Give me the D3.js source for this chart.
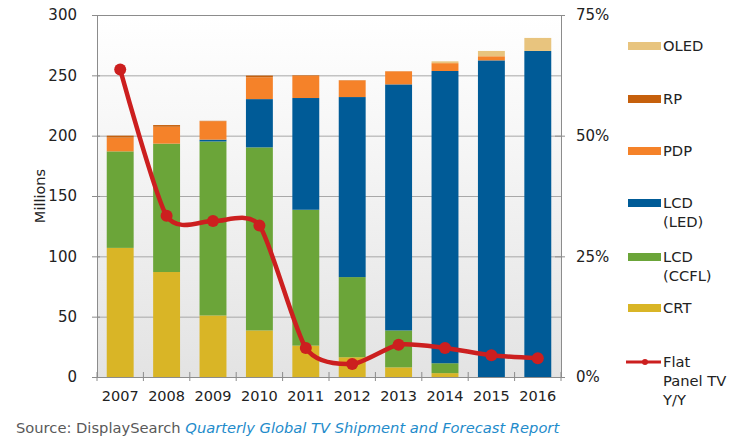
<!DOCTYPE html>
<html lang="en">
<head>
<meta charset="UTF-8">
<title>Global TV Shipments</title>
<script src="https://cdn.jsdelivr.net/npm/d3@7/dist/d3.min.js"></script>
<style>
  body { margin: 0; background: #fff; }
  text { font-family: "DejaVu Sans", Verdana, sans-serif; }
</style>
</head>
<body>
<svg id="chart" width="750" height="442"></svg>
<script>
// values (millions of units, and Y/Y %)
var years = ["2007", "2008", "2009", "2010", "2011", "2012", "2013", "2014", "2015", "2016"];
var crt  = [107, 87, 51, 38.6, 26, 16.4, 8, 3.2, 0, 0];
var ccfl = [80, 106.4, 144.2, 151.7, 112.6, 66.4, 30.6, 8.2, 0, 0];
var led  = [0, 0, 1.5, 40, 92.6, 149.2, 203.9, 242.2, 262.4, 270.2];
var pdp  = [11.4, 14, 15.3, 18.1, 18.5, 13.8, 10.8, 6.5, 3.4, 0];
var rp   = [1.6, 1.4, 0.3, 1.4, 0.4, 0.2, 0.1, 0, 0, 0];
var oled = [0, 0, 0, 0, 0, 0, 0, 1.5, 4.4, 10.8];
var flatYoY = [63.7, 33.4, 32.3, 31.4, 6.0, 2.7, 6.7, 6.0, 4.5, 3.9];

var leftTicks = [0, 50, 100, 150, 200, 250, 300];
var rightTicks = [0, 25, 50, 75];

var keys = ["CRT", "CCFL", "LED", "PDP", "RP", "OLED"];
var colors = {CRT: "#d9b526", CCFL: "#6ba539", LED: "#005b97", PDP: "#f58229", RP: "#c6600c", OLED: "#e8c47e"};
var legendItems = [
  {key: "OLED", lines: ["OLED"]},
  {key: "RP", lines: ["RP"]},
  {key: "PDP", lines: ["PDP"]},
  {key: "LED", lines: ["LCD", "(LED)"]},
  {key: "CCFL", lines: ["LCD", "(CCFL)"]},
  {key: "CRT", lines: ["CRT"]},
  {key: "YOY", lines: ["Flat", "Panel TV", "Y/Y"]}
];
var legendY = [46, 99, 151, 203, 257, 308, 362];

var svg = d3.select("#chart");
var pLeft = 97, pRight = 561, pTop = 15, pBottom = 377;

var data = years.map(function(yr, i) {
  return {year: yr, CRT: crt[i], CCFL: ccfl[i], LED: led[i], PDP: pdp[i], RP: rp[i], OLED: oled[i], yoy: flatYoY[i]};
});
var series = d3.stack().keys(keys)(data);

var x = d3.scaleBand().domain(years).range([pLeft, pRight]).paddingInner(0.42).paddingOuter(0.21);
var xBand = d3.scaleBand().domain(years).range([pLeft, pRight]);
var y = d3.scaleLinear().domain([0, 300]).range([pBottom, pTop]);
var y2 = d3.scaleLinear().domain([0, 75]).range([pBottom, pTop]);

// plot background
var defs = svg.append("defs");
var grad = defs.append("linearGradient").attr("id", "bg").attr("x1", 0).attr("y1", 0).attr("x2", 0).attr("y2", 1);
grad.append("stop").attr("offset", "0%").attr("stop-color", "#ffffff");
grad.append("stop").attr("offset", "35%").attr("stop-color", "#f6f6f6");
grad.append("stop").attr("offset", "100%").attr("stop-color", "#e3e3e3");
svg.append("rect").attr("x", pLeft).attr("y", pTop).attr("width", pRight - pLeft).attr("height", pBottom - pTop)
  .attr("fill", "url(#bg)");

// gridlines
svg.append("g").selectAll("line").data(leftTicks).enter().append("line")
  .attr("x1", pLeft).attr("x2", pRight)
  .attr("y1", function(d) { return y(d) + 0.5; }).attr("y2", function(d) { return y(d) + 0.5; })
  .attr("stroke", "#a8a8a8").attr("stroke-width", 1);

// bars
svg.append("g").selectAll("g").data(series).enter().append("g")
  .attr("fill", function(d) { return colors[d.key]; })
  .selectAll("rect").data(function(d) { return d; }).enter().append("rect")
  .attr("x", function(d) { return x(d.data.year); })
  .attr("width", x.bandwidth())
  .attr("y", function(d) { return y(d[1]); })
  .attr("height", function(d) { return Math.max(0, y(d[0]) - y(d[1])); });

// axes
var leftAxis = svg.append("g").attr("transform", "translate(" + pLeft + ",0)")
  .call(d3.axisLeft(y).tickValues(leftTicks).tickSizeInner(5).tickSizeOuter(0).tickPadding(15));
var rightAxis = svg.append("g").attr("transform", "translate(" + pRight + ",0)")
  .call(d3.axisRight(y2).tickValues(rightTicks).tickFormat(function(d) { return d + "%"; })
    .tickSizeInner(4).tickSizeOuter(0).tickPadding(11));
var bottomAxis = svg.append("g").attr("transform", "translate(0," + pBottom + ")")
  .call(d3.axisBottom(xBand).tickSize(0).tickPadding(14));

[leftAxis, rightAxis, bottomAxis].forEach(function(a) {
  a.selectAll(".domain").attr("stroke", "#8c8c8c");
  a.selectAll(".tick line").attr("stroke", "#8c8c8c");
  a.selectAll("text").attr("font-size", "15px").attr("fill", "#222")
    .style("font-family", "'DejaVu Sans', Verdana, sans-serif");
});
bottomAxis.selectAll("text").attr("font-size", "14.5px");
// ticks crossing the axis lines
leftAxis.selectAll(".tick line").attr("x1", 3);
rightAxis.selectAll(".tick line").attr("x1", -6);

// x tick marks at band edges
var edges = years.map(function(d) { return xBand(d); }).concat([pRight]);
svg.append("g").selectAll("line").data(edges).enter().append("line")
  .attr("x1", function(d) { return d; }).attr("x2", function(d) { return d; })
  .attr("y1", pBottom - 5).attr("y2", pBottom + 4)
  .attr("stroke", "#8c8c8c");

// top border
svg.append("line").attr("x1", pLeft).attr("x2", pRight).attr("y1", pTop + 0.5).attr("y2", pTop + 0.5)
  .attr("stroke", "#8c8c8c");

// y title
svg.append("text").attr("transform", "translate(45," + ((pTop + pBottom) / 2) + ") rotate(-90)")
  .attr("text-anchor", "middle").attr("font-size", "14.5px").attr("fill", "#222").text("Millions");

// Y/Y line
var line = d3.line()
  .x(function(d) { return xBand(d.year) + xBand.bandwidth() / 2; })
  .y(function(d) { return y2(d.yoy); })
  .curve(d3.curveCardinal.tension(0.3));
svg.append("path").datum(data).attr("d", line)
  .attr("fill", "none").attr("stroke", "#cc1f1f").attr("stroke-width", 4.5).attr("stroke-linejoin", "round");
svg.append("g").selectAll("circle").data(data).enter().append("circle")
  .attr("cx", function(d) { return xBand(d.year) + xBand.bandwidth() / 2; })
  .attr("cy", function(d) { return y2(d.yoy); })
  .attr("r", 6).attr("fill", "#cc1f1f");

// legend
var lg = svg.append("g");
legendItems.forEach(function(item, i) {
  var ly = legendY[i];
  if (item.key === "YOY") {
    lg.append("line").attr("x1", 626).attr("x2", 661).attr("y1", ly).attr("y2", ly)
      .attr("stroke", "#cc1f1f").attr("stroke-width", 3);
    lg.append("circle").attr("cx", 645).attr("cy", ly).attr("r", 3).attr("fill", "#cc1f1f");
  } else {
    lg.append("rect").attr("x", 628).attr("y", ly - 4).attr("width", 33).attr("height", 8)
      .attr("fill", colors[item.key]);
  }
  var t = lg.append("text").attr("x", 663).attr("y", ly + 5).attr("font-size", "14.7px").attr("fill", "#222");
  item.lines.forEach(function(s, j) {
    t.append("tspan").attr("x", 663).attr("dy", j === 0 ? 0 : 19).text(s);
  });
});

// source
var src = svg.append("text").attr("x", 16).attr("y", 433).attr("font-size", "14.7px");
src.append("tspan").attr("fill", "#595959").text("Source: DisplaySearch ");
src.append("tspan").attr("fill", "#1f8ccb").attr("font-style", "italic")
  .text("Quarterly Global TV Shipment and Forecast Report");
</script>
</body>
</html>
